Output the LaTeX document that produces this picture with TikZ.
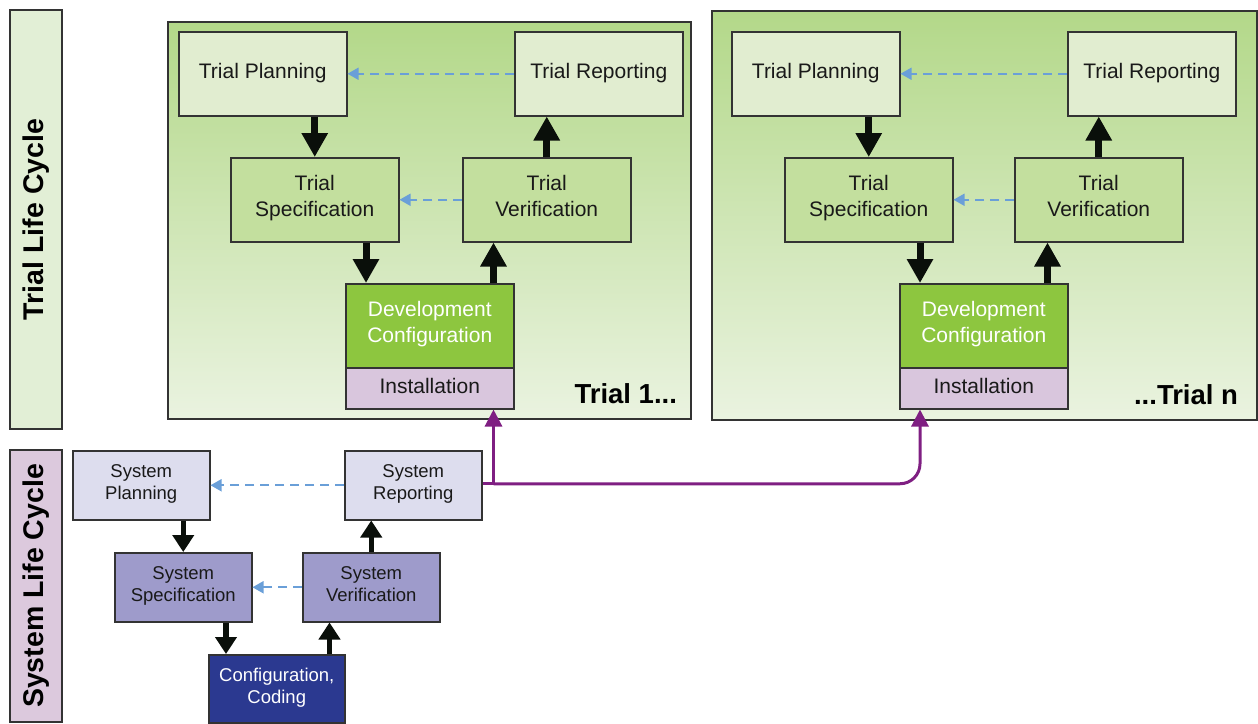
\documentclass[tikz,border=0pt]{standalone}
\usepackage{fontspec}
\setmainfont{Liberation Sans}
\usetikzlibrary{arrows.meta,calc}

\definecolor{trialtop}{HTML}{B3D889}
\definecolor{trialbot}{HTML}{EAF3E0}
\definecolor{tlight}{HTML}{E1EDD0}
\definecolor{tmid}{HTML}{C3DF9E}
\definecolor{tdev}{HTML}{8DC63F}
\definecolor{tinst}{HTML}{D9C6DD}
\definecolor{slight}{HTML}{DDDDEE}
\definecolor{smid}{HTML}{9E9BCB}
\definecolor{sdark}{HTML}{2B3990}
\definecolor{tlcfill}{HTML}{E2EFD6}
\definecolor{slcfill}{HTML}{DCC9DD}
\definecolor{dashblue}{HTML}{6A9FD8}
\definecolor{purp}{HTML}{7F1F82}
\definecolor{edge}{HTML}{333333}
\definecolor{arrblack}{HTML}{0A0F0A}

\tikzset{
  bx/.style={draw=edge, line width=1.5pt, inner sep=2pt, align=center, text=black!90, anchor=north west,
    execute at begin node=\strut, execute at end node=\strut},
  tbox/.style={bx, minimum width=168pt, minimum height=84pt, font=\fontsize{21}{26}\selectfont},
  tlightbox/.style={tbox, fill=tlight},
  tmidbox/.style={tbox, fill=tmid},
  tdevbox/.style={tbox, fill=tdev, text=white},
  tinstbox/.style={tbox, fill=tinst, minimum height=41pt},
  sbox/.style={bx, minimum width=137pt, minimum height=69pt, font=\fontsize{18.5}{22}\selectfont},
  slightbox/.style={sbox, fill=slight},
  smidbox/.style={sbox, fill=smid},
  sdarkbox/.style={sbox, fill=sdark, text=white, minimum width=136pt, minimum height=68pt},
  panel/.style={draw=edge, line width=1.5pt, top color=trialtop, bottom color=trialbot, anchor=north west, inner sep=0pt},
  lbl/.style={draw=edge, line width=1.5pt, rotate=90, minimum height=52pt, inner sep=0pt, font=\bfseries\fontsize{28.5}{34}\selectfont},
  trialname/.style={font=\bfseries\fontsize{27.5}{33}\selectfont, anchor=base east},
  tarrow/.style={draw=arrblack, line width=7pt, -{Triangle[width=25pt,length=24pt]}},
  sarrow/.style={draw=arrblack, line width=5.5pt, -{Triangle[width=21pt,length=17pt]}},
  dasharrow/.style={draw=dashblue, line width=1.8pt, dash pattern=on 9pt off 6pt, -{Triangle[width=12pt,length=11pt]}},
  purparrow/.style={draw=purp, line width=3pt, -{Triangle[width=17pt,length=17pt]}},
}

\begin{document}
\begin{tikzpicture}[x=1pt,y=1pt]
\useasboundingbox (0,0) rectangle (1258,-723);

% side labels
\node[lbl, fill=tlcfill, minimum width=419pt] (tlc) at (36,-219.5) {Trial Life Cycle};
\node[lbl, fill=slcfill, minimum width=272pt] (slc) at (36,-586) {System Life Cycle};

% panels
\node[panel, minimum width=523pt, minimum height=397pt] (pan1) at (167,-21) {};
\node[panel, minimum width=545pt, minimum height=409pt] (pann) at (711,-10) {};

% Trial 1
\node[tlightbox] (tp1) at (178,-31) {Trial Planning};
\node[tlightbox] (tr1) at (514,-31) {Trial Reporting};
\node[tmidbox] (ts1) at (230,-157) {Trial\\Specification};
\node[tmidbox] (tv1) at (462,-157) {Trial\\Verification};
\node[tdevbox] (td1) at (345,-283) {Development\\Configuration};
\node[tinstbox] (ti1) at (345,-367) {Installation};
\node[trialname] (tn1) at ([xshift=-11pt,yshift=16pt]pan1.south east) {Trial 1...};

% Trial n
\node[tlightbox] (tpn) at (731,-31) {Trial Planning};
\node[tlightbox] (trn) at (1067,-31) {Trial Reporting};
\node[tmidbox] (tsn) at (784,-157) {Trial\\Specification};
\node[tmidbox] (tvn) at (1014,-157) {Trial\\Verification};
\node[tdevbox] (tdn) at (899,-283) {Development\\Configuration};
\node[tinstbox] (tin) at (899,-367) {Installation};
\node[trialname] (tnn) at ([xshift=-16pt,yshift=16pt]pann.south east) {...Trial n};

% System
\node[slightbox] (sp) at (72,-450) {System\\Planning};
\node[slightbox] (sr) at (344,-450) {System\\Reporting};
\node[smidbox] (ss) at (114,-552) {System\\Specification};
\node[smidbox] (sv) at (302,-552) {System\\Verification};
\node[sdarkbox] (sc) at (208,-654) {Configuration,\\Coding};

% Trial 1 arrows
\draw[tarrow] (tp1.south -| ts1.north) -- (ts1.north);
\coordinate (a1) at ([xshift=21pt]td1.north west);
\draw[tarrow] (ts1.south -| a1) -- (a1);
\coordinate (b1) at ([xshift=-21pt]td1.north east);
\draw[tarrow] (b1) -- (tv1.south -| b1);
\draw[tarrow] (tv1.north) -- (tr1.south -| tv1.north);
\draw[dasharrow] (tr1.west) -- (tp1.east);
\draw[dasharrow] (tv1.west) -- (ts1.east);

% Trial n arrows
\draw[tarrow] (tpn.south -| tsn.north) -- (tsn.north);
\coordinate (an) at ([xshift=21pt]tdn.north west);
\draw[tarrow] (tsn.south -| an) -- (an);
\coordinate (bn) at ([xshift=-21pt]tdn.north east);
\draw[tarrow] (bn) -- (tvn.south -| bn);
\draw[tarrow] (tvn.north) -- (trn.south -| tvn.north);
\draw[dasharrow] (trn.west) -- (tpn.east);
\draw[dasharrow] (tvn.west) -- (tsn.east);

% System arrows
\draw[sarrow] (sp.south -| ss.north) -- (ss.north);
\coordinate (as) at ([xshift=18pt]sc.north west);
\draw[sarrow] (ss.south -| as) -- (as);
\coordinate (bs) at ([xshift=-16pt]sc.north east);
\draw[sarrow] (bs) -- (sv.south -| bs);
\draw[sarrow] (sv.north) -- (sr.south -| sv.north);
\draw[dasharrow] (sr.west) -- (sp.east);
\draw[dasharrow] (sv.west) -- (ss.east);

% purple connectors
\coordinate (p1) at ([xshift=-21pt]ti1.south east);
\coordinate (p2) at ([xshift=21pt]tin.south west);
\coordinate (j) at ([yshift=1.5pt]sr.east -| p1);
\draw[purparrow] ([yshift=1.5pt]sr.east) -- (j) -- (p1);
\draw[purparrow, rounded corners=20pt] (j) -| (p2);
\end{tikzpicture}
\end{document}
